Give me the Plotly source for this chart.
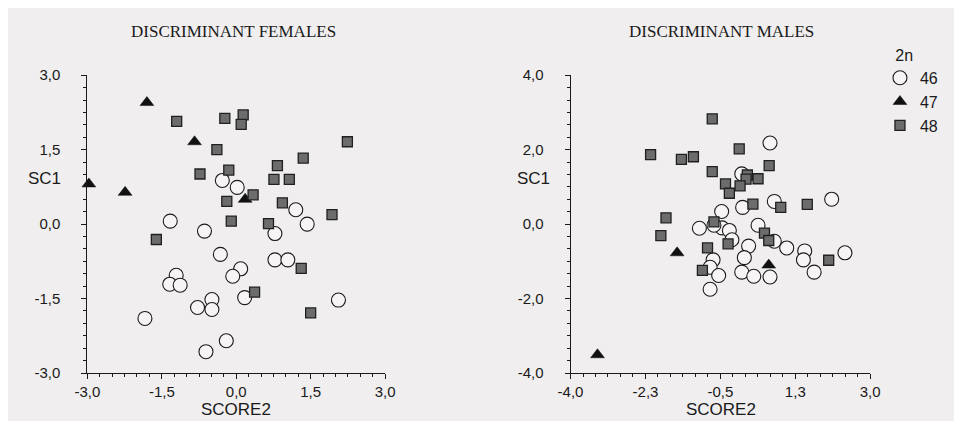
import plotly.graph_objects as go

# ---------------- data ----------------
# Females panel
f46_x = [-0.28, 0.02, 1.20, -1.33, 1.43, -0.64, 0.78, -0.32, 0.78, 1.04, 0.09, -0.07,
         -1.21, -1.34, -1.13, -0.49, -0.78, -0.49, 0.17, 2.06, -1.84, -0.20, -0.61]
f46_y = [0.88, 0.74, 0.29, 0.06, 0.00, -0.14, -0.19, -0.61, -0.72, -0.72, -0.90, -1.05,
         -1.03, -1.21, -1.23, -1.52, -1.68, -1.72, -1.48, -1.53, -1.90, -2.35, -2.57]
f47_x = [-1.80, -0.84, -2.97, -2.24, 0.18]
f47_y = [2.45, 1.66, 0.81, 0.64, 0.50]
f48_x = [-1.20, -0.23, 0.14, 0.10, -0.39, 2.24, 1.35, 0.83, -0.73, -0.15, 0.76, 1.07,
         0.34, -0.19, 0.93, 1.93, -0.10, 0.65, -1.61, 1.31, 0.37, 1.50]
f48_y = [2.07, 2.13, 2.20, 2.01, 1.50, 1.66, 1.33, 1.18, 1.01, 1.09, 0.90, 0.90,
         0.59, 0.46, 0.43, 0.19, 0.06, 0.01, -0.31, -0.89, -1.37, -1.79]

# Males panel
m46_x = [0.66, 0.00, 2.10, 0.76, 0.02, -0.47, -0.99, -0.46, -0.29, 0.38, -0.65, -0.23,
         0.76, 1.05, 1.47, 2.41, 0.16, -0.67, -0.74, -0.54, 0.06, 0.00, 0.28, 0.66,
         1.44, 1.69, -0.74]
m46_y = [2.18, 1.35, 0.67, 0.61, 0.45, 0.34, -0.11, -0.10, -0.17, -0.03, -0.03, -0.42,
         -0.46, -0.64, -0.72, -0.77, -0.59, -0.96, -1.16, -1.38, -0.90, -1.29, -1.40, -1.42,
         -0.96, -1.29, -1.75]
m47_x = [-1.51, 0.63, -3.37]
m47_y = [-0.77, -1.10, -3.51]
m48_x = [-0.69, -2.13, -1.41, -1.13, -0.06, 0.64, -0.69, 0.13, 0.10, 0.38, -0.38, -0.04,
         -0.29, 0.26, 0.91, 1.53, -1.77, -0.65, -1.89, 0.53, 0.63, -0.32, -0.80, 2.03, -0.92]
m48_y = [2.83, 1.87, 1.74, 1.81, 2.02, 1.57, 1.41, 1.32, 1.21, 1.22, 1.08, 1.03,
         0.83, 0.54, 0.45, 0.53, 0.17, 0.06, -0.31, -0.24, -0.44, -0.53, -0.64, -0.97, -1.24]

groups = ["46", "47", "48"]
f_tickvals = [-3, -1.5, 0, 1.5, 3]
f_ticktext = ["-3,0", "-1,5", "0,0", "1,5", "3,0"]
mx_tickvals = [-4, -2.25, -0.5, 1.25, 3]
mx_ticktext = ["-4,0", "-2,3", "-0,5", "1,3", "3,0"]
my_tickvals = [-4, -2, 0, 2, 4]
my_ticktext = ["-4,0", "-2,0", "0,0", "2,0", "4,0"]

# ---------------- styling ----------------
BG = "#f0eeef"
INK = "#1a1a1a"
SANS = "Liberation Sans, Arial, sans-serif"
SERIF = "Liberation Serif, Times New Roman, serif"

styles = {
    "46": dict(symbol="circle", size=14, color="#f6f4f5", line=dict(color=INK, width=1.1)),
    "47": dict(symbol="triangle-up", size=12, color="#111111", line=dict(color="#111111", width=0.5)),
    "48": dict(symbol="square", size=10, color="#6c6c6c", line=dict(color="#202020", width=1.3)),
}

fig = go.Figure()

panels = [
    ("x", "y", [(f46_x, f46_y), (f47_x, f47_y), (f48_x, f48_y)], False),
    ("x2", "y2", [(m46_x, m46_y), (m47_x, m47_y), (m48_x, m48_y)], True),
]
for xa, ya, series, show in panels:
    for g, (xs, ys) in zip(groups, series):
        fig.add_trace(go.Scatter(
            x=xs, y=ys, mode="markers", name=g, legendgroup=g, showlegend=show,
            xaxis=xa, yaxis=ya, cliponaxis=False,
            marker=styles[g],
        ))

axis_common = dict(
    showgrid=False, zeroline=False, showline=True, linecolor=INK, linewidth=1,
    ticks="outside", ticklen=5, tickwidth=1, tickcolor=INK,
    tickfont=dict(family=SANS, size=15, color=INK), mirror=False,
)
minor_x = dict(ticks="outside", ticklen=3, tickcolor=INK)

ydom = [1 - 371 / 421, 1 - 60.7 / 421]
fig.update_layout(
    width=962, height=421,
    margin=dict(l=0, r=0, t=0, b=0),
    paper_bgcolor=BG, plot_bgcolor=BG,
    showlegend=True,
    legend=dict(
        x=880 / 962, y=1 - 24 / 421, xanchor="left", yanchor="top",
        bgcolor="rgba(0,0,0,0)", font=dict(family=SANS, size=16, color=INK),
        title=dict(text="&nbsp;&nbsp;&nbsp;2n", font=dict(family=SANS, size=16, color=INK)),
        tracegroupgap=0, itemwidth=30,
    ),
    xaxis=dict(domain=[68 / 962, 373 / 962], range=[-3, 3], anchor="y",
               tickvals=f_tickvals, ticktext=f_ticktext,
               minor=dict(tick0=-3, dtick=0.25, **minor_x),
               **axis_common),
    yaxis=dict(domain=ydom, range=[-3, 3], anchor="x",
               tickvals=f_tickvals, ticktext=f_ticktext, ticklabelstandoff=18,
               minor=dict(tick0=-3, dtick=0.25, **minor_x),
               **axis_common),
    xaxis2=dict(domain=[563 / 962, 870 / 962], range=[-4, 3], anchor="y2",
                tickvals=mx_tickvals, ticktext=mx_ticktext,
                minor=dict(tick0=-4, dtick=1.75 / 6, **minor_x),
                **axis_common),
    yaxis2=dict(domain=ydom, range=[-4, 4], anchor="x2",
                tickvals=my_tickvals, ticktext=my_ticktext, ticklabelstandoff=18,
                minor=dict(tick0=-4, dtick=1 / 3, **minor_x),
                **axis_common),
)

annots = [
    dict(text="DISCRIMINANT FEMALES", x=218 / 962, y=1 - 15 / 421, font=dict(family=SERIF, size=17)),
    dict(text="DISCRIMINANT MALES", x=718 / 962, y=1 - 15 / 421, font=dict(family=SERIF, size=17)),
    dict(text="SC1", x=24 / 962, y=1 - 168 / 421, font=dict(family=SANS, size=17)),
    dict(text="SC1", x=525 / 962, y=1 - 168 / 421, font=dict(family=SANS, size=17)),
    dict(text="SCORE2", x=220 / 962, y=1 - 409 / 421, font=dict(family=SANS, size=17)),
    dict(text="SCORE2", x=717 / 962, y=1 - 409 / 421, font=dict(family=SANS, size=17)),
]
for a in annots:
    a["font"]["color"] = INK
    fig.add_annotation(xref="paper", yref="paper", showarrow=False,
                       xanchor="center", yanchor="middle", **a)

fig.write_html("out.html")
